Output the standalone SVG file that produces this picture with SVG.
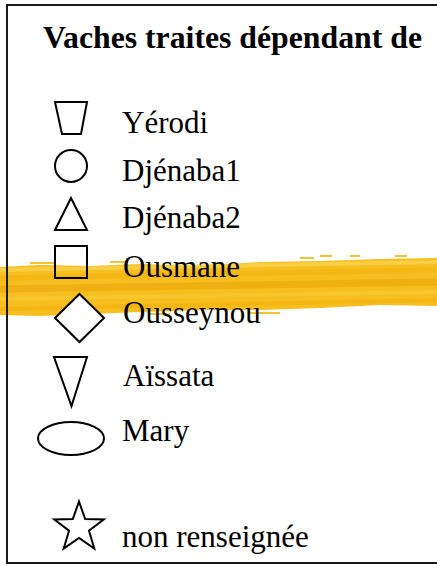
<svg xmlns="http://www.w3.org/2000/svg" width="437" height="566" viewBox="0 0 437 566">
<style>
.sym{fill:none;stroke:#000;stroke-width:2;stroke-linejoin:miter}
.symw{fill:#fff;stroke:#000;stroke-width:2}
.lbl{font-family:"Liberation Serif","Times New Roman",serif;font-size:31px;fill:#000}
.ttl{font-family:"Liberation Serif","Times New Roman",serif;font-size:31px;font-weight:bold;fill:#000}
</style>
<rect x="0" y="0" width="437" height="566" fill="#fff"/>
<g id="brush">
<path d="M0,267 L40,265 L90,266 L140,264 L200,266 L260,262 L320,261 L380,259 L437,258 L437,306 L380,305 L320,308 L260,310 L200,310 L140,312 L90,314 L40,316 L0,315 Z" fill="#F6BE1E"/>
<path d="M0,270 L437,262" stroke="#F9D24E" stroke-width="4" opacity="0.8"/>
<path d="M0,278 L437,270" stroke="#F3B410" stroke-width="5" opacity="0.6"/>
<path d="M0,289 L437,282" stroke="#EBA50A" stroke-width="7" opacity="0.55"/>
<path d="M0,299 L437,292" stroke="#F8C936" stroke-width="4" opacity="0.7"/>
<path d="M0,309 L437,300" stroke="#F2B20E" stroke-width="4" opacity="0.6"/>
<path d="M30,263 h25 M110,262 h18 M300,258 h14 M320,256 h12 M350,256 h10 M395,256 h12 M60,318 h30 M150,314 h20 M250,313 h30" stroke="#F6C230" stroke-width="2"/>
</g>
<path d="M437,5 H7 V563 H437" fill="none" stroke="#1a1a1a" stroke-width="2"/>
<g id="title"><text class="ttl" x="43" y="48" textLength="379" lengthAdjust="spacingAndGlyphs">Vaches traites dépendant de</text></g>
<g id="yerodi"><polygon class="sym" points="55,102 87,102 81,134 62,134"/><text class="lbl" x="122" y="133">Yérodi</text></g>
<g id="djenaba1"><circle class="sym" cx="71" cy="166" r="16"/><text class="lbl" x="122" y="181">Djénaba1</text></g>
<g id="djenaba2"><polygon class="sym" points="71,198 55,230 87,230"/><text class="lbl" x="122" y="228">Djénaba2</text></g>
<g id="ousmane"><rect class="sym" x="55" y="246" width="32" height="32"/><text class="lbl" x="123" y="277">Ousmane</text></g>
<g id="ousseynou"><polygon class="symw" points="79.5,294 104,318 79.5,342 55,318"/><text class="lbl" x="123" y="323">Ousseynou</text></g>
<g id="aissata"><polygon class="sym" points="54,357 87,357 71.5,406"/><text class="lbl" x="123" y="386">Aïssata</text></g>
<g id="mary"><ellipse class="sym" cx="71" cy="438.5" rx="33" ry="16.5"/><text class="lbl" x="122" y="441">Mary</text></g>
<g id="non-renseignee"><polygon class="sym" points="79,501.5 85.17,519.01 103.73,519.47 88.99,530.74 94.28,548.53 79,538 63.72,548.53 69.01,530.74 54.27,519.47 72.83,519.01"/><text class="lbl" x="122" y="547">non renseignée</text></g>
</svg>
